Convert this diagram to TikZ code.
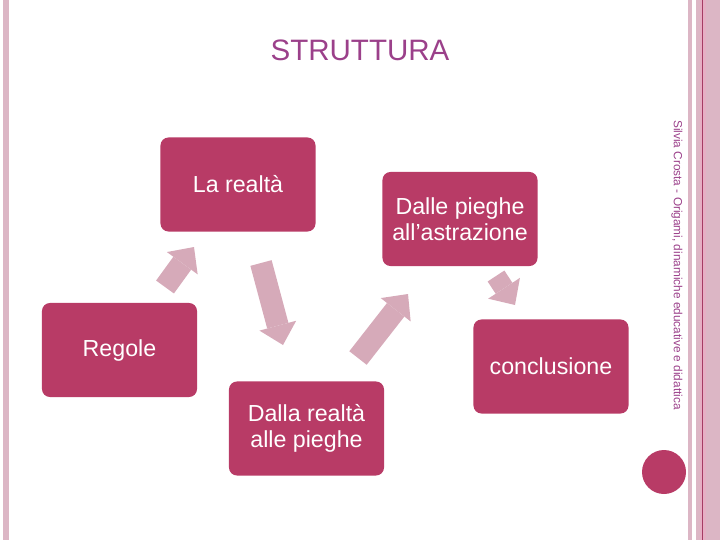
\documentclass[tikz,border=0pt]{standalone}
\usepackage{fontspec}
\setmainfont{Liberation Sans}
\usetikzlibrary{arrows.meta}
\definecolor{boxred}{RGB}{184,59,102}
\definecolor{arrowpink}{RGB}{214,170,185}
\definecolor{titlepurple}{RGB}{155,64,138}
\definecolor{stripepink}{RGB}{220,182,197}
\definecolor{stripelight}{RGB}{230,175,196}
\definecolor{stripedark}{RGB}{165,60,100}

\begin{document}
\begin{tikzpicture}[x=0.025cm, y=-0.025cm,
  stepbox/.style={fill=boxred, rounded corners=0.2cm, minimum width=3.875cm,
    minimum height=2.35cm, inner sep=0pt, align=center, text=white,
    font=\fontsize{16.5}{18.5}\selectfont},
  blockarrow/.style={arrowpink, line width=0.55cm,
    -{Triangle[width=0.95cm, length=0.5cm, line width=0pt]}}]
  \useasboundingbox (0,0) rectangle (720,540);
  % frame
  \fill[stripepink] (3,0) rectangle (9,540);
  \fill[stripepink] (688,0) rectangle (692,540);
  \fill[stripepink] (696,0) rectangle (720,540);
  \fill[stripelight] (700,0) rectangle (706,540);
  \draw[stripedark, line width=0.7pt] (702,0) -- (702,540);
  \fill[boxred] (664,472) circle (0.55cm);
  \node[text=titlepurple, font=\fontsize{21}{24}\selectfont] (title) at (360,50) {STRUTTURA};
  \node[rotate=-90, text=titlepurple, font=\fontsize{8.4}{9}\selectfont] (credit) at (677,265)
    {Silvia Crosta - Origami, dinamiche educative e didattica};
  % boxes
  \node[stepbox] (realta) at (238,184.5) {La realtà};
  \node[stepbox] (astrazione) at (460,219) {Dalle pieghe\\all'astrazione};
  \node[stepbox] (regole) at (119.5,350) {Regole};
  \node[stepbox] (pieghe) at (306.5,428.5) {Dalla realtà\\alle pieghe};
  \node[stepbox] (conclusione) at (551,366.5) {conclusione};
  % arrows
  \coordinate (A1) at (165,287);
  \coordinate (B1) at (194,247);
  \coordinate (A2) at (261,263);
  \coordinate (B2) at (283,345);
  \coordinate (A3) at (358,358);
  \coordinate (B3) at (408,294);
  \coordinate (A4) at (496,276);
  \coordinate (B4) at (515,305);
  \draw[blockarrow] (A1) -- (B1);
  \draw[blockarrow] (A2) -- (B2);
  \draw[blockarrow] (A3) -- (B3);
  \draw[blockarrow, line width=0.5cm] (A4) -- (B4);
\end{tikzpicture}
\end{document}
